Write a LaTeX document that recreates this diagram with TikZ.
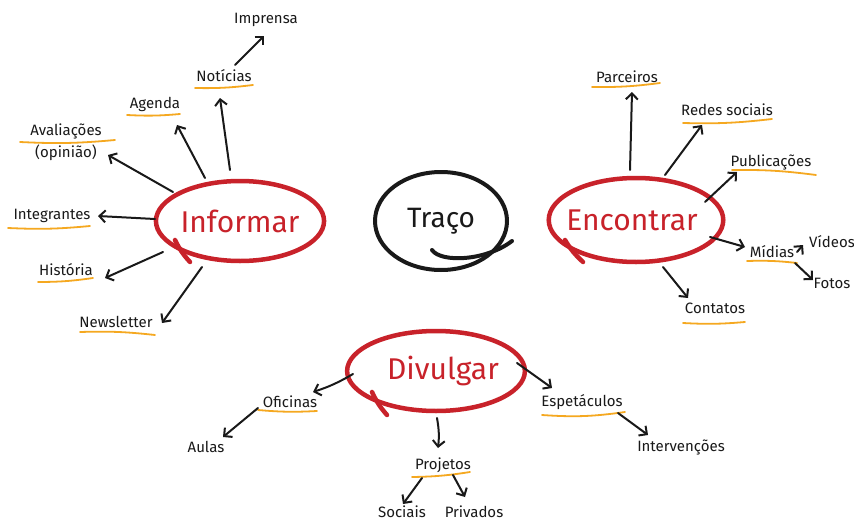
\documentclass[tikz,border=0pt]{standalone}
\usepackage{fontspec}
\setmainfont{Fira Sans}
\usetikzlibrary{shapes.geometric,arrows.meta}
\definecolor{ringred}{RGB}{200,34,42}
\definecolor{ulorange}{RGB}{245,168,32}
\definecolor{ink}{RGB}{25,25,25}
\begin{document}
\begin{tikzpicture}[x=1pt,y=-1pt,
  hub/.style={ellipse, draw=ringred, line width=4.5pt, text=ringred, font=\fontsize{30}{32}\selectfont, inner sep=0pt},
  lbl/.style={text=ink, font=\fontsize{15}{22}\selectfont, inner sep=1pt},
  arr/.style={draw=ink, line width=2pt, line cap=round, line join=round, -{Straight Barb[length=6pt,width=12pt]}},
  ul/.style={draw=ulorange, line width=1.8pt, line cap=round},
  tailred/.style={draw=ringred, line width=4.5pt, line cap=round},
  tailblack/.style={draw=ink, line width=4pt, line cap=round}]
\useasboundingbox (0,0) rectangle (854,522);
\fill[white] (0,0) rectangle (854,522);

% hubs
\node[hub, minimum width=150pt, minimum height=80pt] (informar) at (240,221) {Informar};
\node[hub, minimum width=152pt, minimum height=84pt] (encontrar) at (636,220) {\hspace*{-8pt}Encontrar};
\node[hub, minimum width=152pt, minimum height=80pt] (divulgar) at (436,371) {\hspace*{14pt}Divulgar};
\node[ellipse, draw=ink, line width=4pt, text=ink, font=\fontsize{28}{30}\selectfont, inner sep=0pt, minimum width=132pt, minimum height=98pt] (traco) at (441,221) {Traço};

% tails of rings
\draw[tailred] ([shift={(-65,19)}]informar.center) to[bend right=8] ([shift={(-50,41)}]informar.center);
\draw[tailred] ([shift={(-71,20)}]encontrar.center) to[bend right=8] ([shift={(-53,42)}]encontrar.center);
\draw[tailred] ([shift={(-64,21)}]divulgar.center) to[bend right=8] ([shift={(-49,44)}]divulgar.center);
\draw[tailblack] ([shift={(-9,29)}]traco.center) .. controls ([shift={(0,42)}]traco.center) and ([shift={(45,40)}]traco.center) .. ([shift={(71,20)}]traco.center);

% labels left
\node[lbl] (imprensa) at (266,20) {Imprensa};
\node[lbl] (noticias) at (224,76) {Notícias};
\node[lbl] (agenda) at (155,104) {Agenda};
\node[lbl, align=center] (aval) at (66,142) {Avaliações\\(opinião)};
\node[lbl] (integrantes) at (52,216) {Integrantes};
\node[lbl] (historia) at (66,270) {História};
\node[lbl] (newsletter) at (116,322) {Newsletter};

% labels right
\node[lbl] (parceiros) at (627,77) {Parceiros};
\node[lbl] (redes) at (727,110) {Redes sociais};
\node[lbl] (publicacoes) at (771,162) {Publicações};
\node[lbl] (midias) at (772,252) {Mídias};
\node[lbl, anchor=west] (videos) at (808,242) {Vídeos};
\node[lbl] (fotos) at (832,283) {Fotos};
\node[lbl] (contatos) at (715,308) {Contatos};

% labels bottom
\node[lbl] (oficinas) at (290,402) {Oficinas};
\node[lbl] (aulas) at (206,447) {Aulas};
\node[lbl] (projetos) at (443,465) {Projetos};
\node[lbl] (sociais) at (402,512) {Sociais};
\node[lbl] (privados) at (474,512) {Privados};
\node[lbl] (espetaculos) at (582,402) {Espetáculos};
\node[lbl] (intervencoes) at (681,447) {Intervenções};

% underlines
\draw[ul] ([shift={(-29,12)}]noticias.center) to[bend right=4] ([shift={(29,9)}]noticias.center);
\draw[ul] ([shift={(-28,11)}]agenda.center) to[bend right=4] ([shift={(25,10)}]agenda.center);
\draw[ul] ([shift={(-46,0)}]aval.center) to[bend right=4] ([shift={(49,-2)}]aval.center);
\draw[ul] ([shift={(-44,12)}]integrantes.center) to[bend right=4] ([shift={(38,10)}]integrantes.center);
\draw[ul] ([shift={(-28,12)}]historia.center) to[bend right=4] ([shift={(27,8)}]historia.center);
\draw[ul] ([shift={(-36,10)}]newsletter.center) to[bend left=4] ([shift={(39,13)}]newsletter.center);
\draw[ul] ([shift={(-35,10)}]parceiros.center) to[bend right=4] ([shift={(33,6)}]parceiros.center);
\draw[ul] ([shift={(-44,13)}]redes.center) to[bend right=4] ([shift={(45,9)}]redes.center);
\draw[ul] ([shift={(-39,8)}]publicacoes.center) to[bend left=4] ([shift={(45,13)}]publicacoes.center);
\draw[ul] ([shift={(-25,9)}]midias.center) to[bend left=4] ([shift={(25,11)}]midias.center);
\draw[ul] ([shift={(-32,15)}]contatos.center) to[bend right=4] ([shift={(30,14)}]contatos.center);
\draw[ul] ([shift={(-32,8)}]oficinas.center) to[bend right=4] ([shift={(27,9)}]oficinas.center);
\draw[ul] ([shift={(-31,12)}]projetos.center) to[bend right=4] ([shift={(27,7)}]projetos.center);
\draw[ul] ([shift={(-40,13)}]espetaculos.center) to[bend right=6] ([shift={(43,10)}]espetaculos.center);

% connectors from Informar
\draw[arr] ([shift={(-10,-51)}]informar.center) -- ([shift={(-4,22)}]noticias.center);
\draw[arr] ([shift={(11,-11)}]noticias.center) -- ([shift={(-2,16)}]imprensa.center);
\draw[arr] ([shift={(-35,-43)}]informar.center) -- ([shift={(22,21)}]agenda.center);
\draw[arr] ([shift={(-67,-29)}]informar.center) -- ([shift={(42,13)}]aval.center);
\draw[arr] ([shift={(-85,-2)}]informar.center) -- ([shift={(46,0)}]integrantes.center);
\draw[arr] ([shift={(-77,31)}]informar.center) -- ([shift={(39,8)}]historia.center);
\draw[arr] ([shift={(-38,46)}]informar.center) -- ([shift={(46,1)}]newsletter.center);

% connectors from Encontrar
\draw[arr] ([shift={(-6,-50)}]encontrar.center) -- ([shift={(5,15)}]parceiros.center);
\draw[arr] ([shift={(29,-45)}]encontrar.center) -- ([shift={(-25,15)}]redes.center);
\draw[arr] ([shift={(69,-18)}]encontrar.center) -- ([shift={(-34,10)}]publicacoes.center);
\draw[arr] ([shift={(74,17)}]encontrar.center) -- ([shift={(-27,-5)}]midias.center);
\draw[arr] ([shift={(25,0)}]midias.center) -- ([shift={(-5,3)}]videos.west);
\draw[arr] ([shift={(23,11)}]midias.center) -- ([shift={(-19,-3)}]fotos.center);
\draw[arr] ([shift={(27,47)}]encontrar.center) -- ([shift={(-27,-10)}]contatos.center);

% connectors from Divulgar
\draw[arr] ([shift={(-83,3)}]divulgar.center) to[bend left=6] ([shift={(23,-10)}]oficinas.center);
\draw[arr] ([shift={(-32,6)}]oficinas.center) -- ([shift={(17,-10)}]aulas.center);
\draw[arr] ([shift={(1,47)}]divulgar.center) to[bend left=8] ([shift={(-5,-17)}]projetos.center);
\draw[arr] ([shift={(-21,13)}]projetos.center) -- ([shift={(1,-8)}]sociais.center);
\draw[arr] ([shift={(10,10)}]projetos.center) -- ([shift={(-9,-15)}]privados.center);
\draw[arr] ([shift={(81,-8)}]divulgar.center) -- ([shift={(-30,-14)}]espetaculos.center);
\draw[arr] ([shift={(36,11)}]espetaculos.center) -- ([shift={(-33,-12)}]intervencoes.center);
\end{tikzpicture}
\end{document}
